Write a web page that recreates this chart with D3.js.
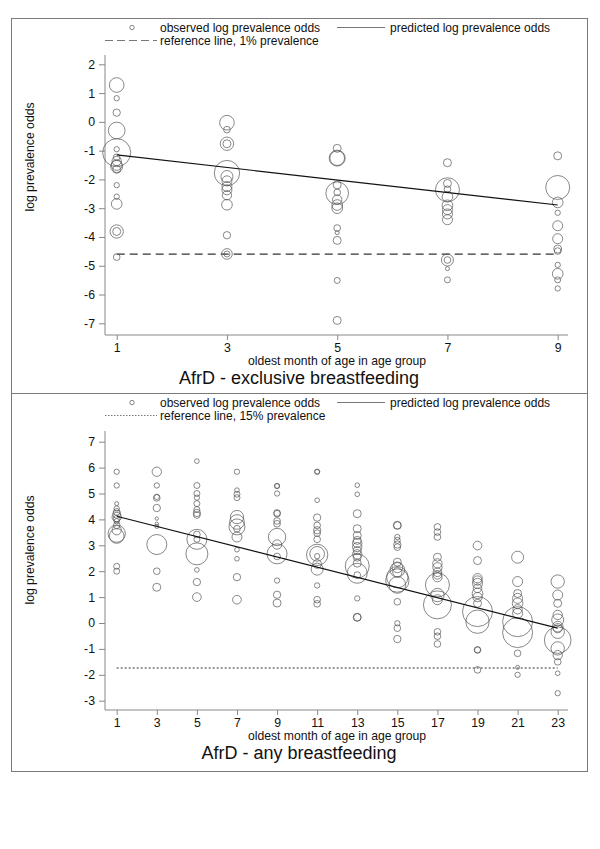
<!DOCTYPE html>
<html><head><meta charset="utf-8">
<script src="https://cdn.jsdelivr.net/npm/d3@7"></script>
<style>
body{margin:0;background:#fff;}
text{font-family:"Liberation Sans",Arial,Helvetica,sans-serif;fill:#111;}
</style></head>
<body>
<svg id="chart" width="600" height="849"></svg>
<script>
// ---------- Panel 1: exclusive breastfeeding ----------
const exAge = [
 1,1,1,1,1,1,1,1,1,1,1,1,1,1,1,1,1,
 3,3,3,3,3,3,3,3,3,3,3,3,3,3,
 5,5,5,5,5,5,5,5,5,5,5,5,5,5,
 7,7,7,7,7,7,7,7,7,7,7,7,7,
 9,9,9,9,9,9,9,9,9,9,9,9];
const exLogOdds = [
 1.28,0.82,0.32,-0.30,-1.07,-0.95,-1.23,-1.36,-1.5,-1.55,-1.65,-2.2,-2.6,-2.85,-3.81,-3.81,-4.7,
 -0.03,-0.27,-0.76,-0.76,-1.78,-1.9,-2.05,-2.25,-2.36,-2.55,-2.88,-3.94,-4.59,-4.59,
 -0.92,-1.26,-1.26,-2.19,-2.48,-2.45,-2.7,-2.89,-3.0,-3.69,-3.85,-4.12,-5.51,-6.9,
 -1.42,-2.36,-2.14,-2.34,-2.6,-2.9,-3.05,-3.2,-3.4,-4.8,-4.8,-5.1,-5.49,
 -1.18,-2.28,-2.8,-3.16,-3.61,-4.06,-4.42,-4.49,-4.97,-5.28,-5.49,-5.79];
const exWeight = [
 484,64,121,625,1764,64,100,196,256,324,144,64,64,256,400,144,100,
 484,100,400,144,1444,324,225,225,225,196,256,121,256,81,
 144,576,484,144,1156,100,196,256,256,100,36,144,81,144,
 144,1296,144,100,256,256,225,225,225,324,100,36,81,
 144,1296,256,64,225,225,144,100,64,256,81,64];
const exPredAge = [1, 9];
const exPredLogOdds = [-1.15, -2.89];
const exRefLogOdds = -4.595;   // 1% prevalence
const exYTicks = [2,1,0,-1,-2,-3,-4,-5,-6,-7];
const exXTicks = [1,3,5,7,9];

// ---------- Panel 2: any breastfeeding ----------
const anyAge = [
 1,1,1,1,1,1,1,1,1,1,1,1,1,1,1,
 3,3,3,3,3,3,3,3,3,3,3,
 5,5,5,5,5,5,5,5,5,5,5,5,5,5,5,
 7,7,7,7,7,7,7,7,7,7,7,7,7,
 9,9,9,9,9,9,9,9,9,9,9,9,9,9,
 11,11,11,11,11,11,11,11,11,11,11,11,11,11,11,11,
 13,13,13,13,13,13,13,13,13,13,13,13,13,13,13,13,13,13,
 15,15,15,15,15,15,15,15,15,15,15,15,15,15,15,15,15,
 17,17,17,17,17,17,17,17,17,17,17,17,17,17,17,17,
 19,19,19,19,19,19,19,19,19,19,19,19,19,19,
 21,21,21,21,21,21,21,21,21,21,21,21,
 23,23,23,23,23,23,23,23,23,23,23,23,23,23];
const anyLogOdds = [
 5.84,5.31,4.61,4.42,4.29,4.2,4.09,4.03,3.93,3.77,3.58,3.45,3.36,2.19,2.0,
 5.84,5.31,4.87,4.83,4.44,4.03,3.83,3.73,3.03,2.0,1.38,
 6.25,5.31,5.0,4.84,4.61,4.38,4.25,4.17,3.42,3.23,3.23,2.67,2.05,1.58,1.0,
 5.84,5.13,4.97,4.84,4.09,3.9,3.71,3.64,3.32,2.83,2.48,1.77,0.9,
 5.29,5.29,5.0,4.25,4.22,3.94,3.83,3.32,3.03,2.67,2.57,1.64,1.09,0.77,
 5.84,5.84,4.74,4.07,3.77,3.58,3.47,3.23,2.67,2.63,2.58,2.28,2.08,1.45,0.9,0.74,
 5.32,4.97,4.22,3.64,3.38,3.19,3.09,2.93,2.8,2.65,2.54,2.31,2.2,1.92,1.85,0.95,0.22,0.22,
 3.77,3.77,3.32,3.19,3.03,2.93,2.35,2.15,2.05,1.96,1.77,1.64,1.47,0.82,-0.01,-0.2,-0.62,
 3.71,3.51,3.32,2.54,2.3,2.15,1.96,1.86,1.77,1.47,1.08,0.9,0.7,-0.34,-0.51,-0.81,
 2.99,2.41,1.73,1.64,1.53,1.34,1.14,1.0,0.76,0.44,0.05,-1.04,-1.04,-1.81,
 2.54,1.6,1.14,0.95,0.76,0.53,0.37,0.05,-0.37,-1.17,-1.71,-2.0,
 1.6,1.08,0.76,0.31,0.12,-0.14,-0.2,-0.34,-0.66,-0.98,-1.24,-1.5,-1.94,-2.71];
const anyWeight = [
 64,64,36,64,100,144,196,100,64,100,196,676,484,81,81,
 196,64,64,100,121,25,25,36,900,100,144,
 49,81,81,64,81,81,121,100,100,81,900,1089,49,121,169,
 64,49,81,81,400,484,576,100,225,49,49,121,169,
 64,49,64,100,100,100,100,676,196,900,100,64,121,144,
 64,49,49,121,100,121,100,100,484,1024,64,169,324,64,100,100,
 49,49,144,144,144,144,196,196,144,196,144,144,1296,900,100,64,144,121,
 144,121,64,81,121,100,144,256,484,196,1024,1225,625,100,64,100,121,
 100,100,100,144,196,196,169,169,196,1296,400,225,1764,100,100,100,
 169,144,196,196,225,169,256,196,144,2025,1225,100,81,100,
 324,225,144,225,256,196,225,2025,2025,100,36,64,
 400,225,144,196,324,256,196,400,1600,400,196,100,49,64];
const anyPredAge = [1, 23];
const anyPredLogOdds = [4.12, -0.2];
const anyRefLogOdds = -1.735;  // 15% prevalence
const anyYTicks = [7,6,5,4,3,2,1,0,-1,-2,-3];
const anyXTicks = [1,3,5,7,9,11,13,15,17,19,21,23];

const legendObserved = "observed log prevalence odds";
const legendPredicted = "predicted log prevalence odds";
const xTitle = "oldest month of age in age group";
const yTitle = "log prevalence odds";

const svg = d3.select("#chart");
const rScale = d3.scaleSqrt().domain([0, 2025]).range([0, 15]);
const FONT = '"Liberation Sans",Arial,Helvetica,sans-serif';

function panel(cfg) {
  const g = svg.append("g");
  // box
  g.append("rect").attr("x", 11.5).attr("y", cfg.boxTop + 0.5)
    .attr("width", 576).attr("height", cfg.boxBottom - cfg.boxTop)
    .attr("fill", "none").attr("stroke", "#7a7a7a").attr("stroke-width", 1);

  const x = d3.scaleLinear().domain(cfg.xDomain).range([116.7, 557.7]);
  const y = d3.scaleLinear().domain(cfg.yDomain).range(cfg.yRange);

  // legend
  const ly1 = cfg.boxTop + 9.5, ly2 = cfg.boxTop + 22.5;
  g.append("circle").attr("cx", 132).attr("cy", ly1).attr("r", 2.2)
    .attr("fill", "none").attr("stroke", "#555").attr("stroke-width", 0.7);
  g.append("text").attr("x", 160).attr("y", ly1 + 4.2).attr("font-size", 12).text(legendObserved);
  g.append("line").attr("x1", 337).attr("x2", 385).attr("y1", ly1).attr("y2", ly1)
    .attr("stroke", "#555").attr("stroke-width", 0.8);
  g.append("text").attr("x", 390).attr("y", ly1 + 4.2).attr("font-size", 12).text(legendPredicted);
  g.append("line").attr("x1", 105).attr("x2", 157).attr("y1", ly2).attr("y2", ly2)
    .attr("stroke", "#555").attr("stroke-width", 0.8).attr("stroke-dasharray", cfg.legendDash);
  g.append("text").attr("x", 160).attr("y", ly2 + 4.2).attr("font-size", 12).text(cfg.refLabel);

  // axes
  const fmt = d => String(d);
  const yAxis = d3.axisLeft(y).tickValues(cfg.yTicks).tickFormat(fmt).tickSize(6).tickPadding(4).tickSizeOuter(0);
  const ya = g.append("g").attr("transform", "translate(105,0)").call(yAxis);
  ya.select(".domain").remove();
  g.append("line").attr("x1", 105).attr("x2", 105).attr("y1", cfg.axisTop).attr("y2", cfg.axisBottom)
    .attr("stroke", "#888").attr("stroke-width", 1);
  const xAxis = d3.axisBottom(x).tickValues(cfg.xTicks).tickFormat(fmt).tickSize(5).tickPadding(3).tickSizeOuter(0);
  const xa = g.append("g").attr("transform", `translate(0,${cfg.axisBottom})`).call(xAxis);
  xa.select(".domain").remove();
  g.append("line").attr("x1", 105).attr("x2", 568).attr("y1", cfg.axisBottom).attr("y2", cfg.axisBottom)
    .attr("stroke", "#888").attr("stroke-width", 1);
  [ya, xa].forEach(a => {
    a.selectAll(".tick line").attr("stroke", "#888");
    a.selectAll(".tick text").attr("font-size", 12.3).attr("font-family", FONT).attr("fill", "#111");
  });

  // reference line
  g.append("line").attr("x1", x(cfg.xDomain[0])).attr("x2", x(cfg.xDomain[1]))
    .attr("y1", y(cfg.ref)).attr("y2", y(cfg.ref))
    .attr("stroke", "#333").attr("stroke-width", 1.1).attr("stroke-dasharray", cfg.refDash);

  // bubbles
  const pts = cfg.age.map((a, i) => ({a, v: cfg.vals[i], w: cfg.w[i]}));
  g.append("g").selectAll("circle").data(pts).join("circle")
    .attr("cx", d => x(d.a)).attr("cy", d => y(d.v)).attr("r", d => rScale(d.w))
    .attr("fill", "none").attr("stroke", "#555").attr("stroke-width", 0.7);

  // predicted line
  const line = d3.line().x(d => x(d[0])).y(d => y(d[1]));
  g.append("path").datum(cfg.predAge.map((a, i) => [a, cfg.predVals[i]]))
    .attr("d", line).attr("fill", "none").attr("stroke", "#111").attr("stroke-width", 1.2);

  // titles
  g.append("text").attr("x", 337).attr("y", cfg.axisBottom + 30).attr("text-anchor", "middle")
    .attr("font-size", 12.2).text(xTitle);
  g.append("text").attr("x", 299).attr("y", cfg.axisBottom + 48.5).attr("text-anchor", "middle")
    .attr("font-size", 18).text(cfg.title);
  g.append("text").attr("transform", `translate(34,${cfg.yTitleY}) rotate(-90)`)
    .attr("text-anchor", "middle").attr("font-size", 12.2).text(yTitle);
}

panel({
  boxTop: 18, boxBottom: 393, axisTop: 55, axisBottom: 335,
  xDomain: [1, 9], yDomain: [2, -7], yRange: [64.3, 323.3],
  age: exAge, vals: exLogOdds, w: exWeight,
  predAge: exPredAge, predVals: exPredLogOdds, ref: exRefLogOdds,
  yTicks: exYTicks, xTicks: exXTicks,
  refDash: "8,5", legendDash: "8,4",
  refLabel: "reference line, 1% prevalence",
  title: "AfrD - exclusive breastfeeding", yTitleY: 157
});
panel({
  boxTop: 393, boxBottom: 771, axisTop: 431, axisBottom: 710,
  xDomain: [1, 23], yDomain: [7, -3], yRange: [441.7, 700.7],
  age: anyAge, vals: anyLogOdds, w: anyWeight,
  predAge: anyPredAge, predVals: anyPredLogOdds, ref: anyRefLogOdds,
  yTicks: anyYTicks, xTicks: anyXTicks,
  refDash: "2,2", legendDash: "1.5,1.5",
  refLabel: "reference line, 15% prevalence",
  title: "AfrD - any breastfeeding", yTitleY: 550
});
</script>
</body></html>
